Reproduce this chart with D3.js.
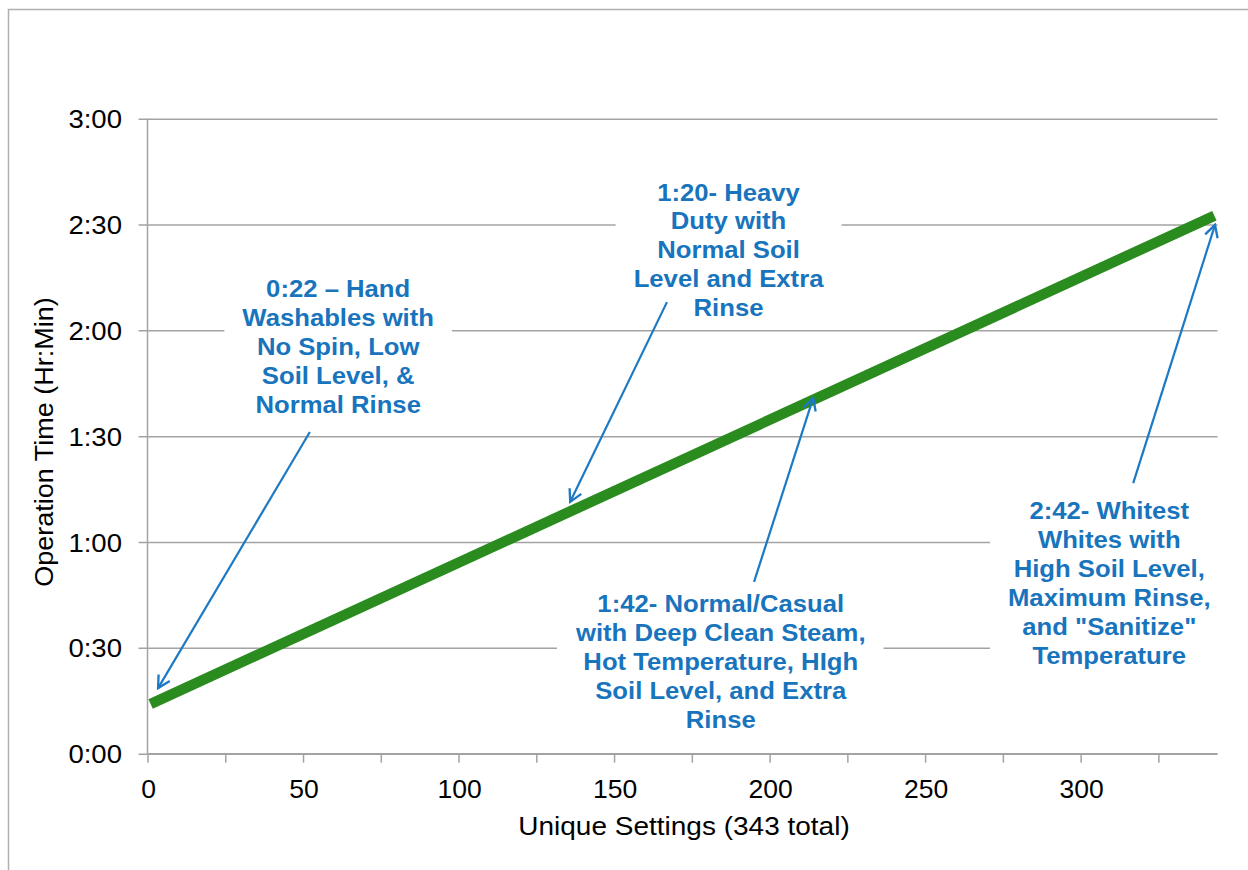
<!DOCTYPE html>
<html>
<head>
<meta charset="utf-8">
<script src="https://cdn.jsdelivr.net/npm/d3@7"></script>
<style>
  html, body { margin: 0; padding: 0; background: #fff; }
  svg { display: block; }
</style>
</head>
<body>
<svg id="chart" width="1248" height="870"></svg>
<script>
// Operation time trend across the washer's unique setting combinations.
const settingIndex = [1, 343];            // unique setting number (x)
const operationMinutes = [14.1, 152.5];   // operation time in minutes (y)

const yTickMinutes = [0, 30, 60, 90, 120, 150, 180];
const yTickLabels = ["0:00", "0:30", "1:00", "1:30", "2:00", "2:30", "3:00"];
const xTickValues = [0, 25, 50, 75, 100, 125, 150, 175, 200, 225, 250, 275, 300, 325];
const xTickLabels = ["0", "", "50", "", "100", "", "150", "", "200", "", "250", "", "300", ""];

const xTitle = "Unique Settings (343 total)";
const yTitle = "Operation Time (Hr:Min)";

// Callout texts, one entry per line
const calloutLines = [
  ["0:22 \u2013 Hand", "Washables with", "No Spin, Low", "Soil Level, &", "Normal Rinse"],
  ["1:20- Heavy", "Duty with", "Normal Soil", "Level and Extra", "Rinse"],
  ["1:42- Normal/Casual", "with Deep Clean Steam,", "Hot Temperature, HIgh", "Soil Level, and Extra", "Rinse"],
  ["2:42-  Whitest", "Whites with", "High Soil Level,", "Maximum Rinse,", "and \"Sanitize\"", "Temperature"]
];
// Callout text centres and arrow ends, in data units (setting, minutes)
const calloutTextX = [61.3, 186.8, 184.3, 309.2];
const calloutTextY = [129.4, 156.8, 40.1, 66.4];
const arrowFromX = [52.2, 167.0, 195.0, 316.9];
const arrowFromY = [91.2, 128.0, 48.7, 76.7];
const arrowToX = [3.4, 135.9, 214.0, 343.2];
const arrowToY = [18.6, 71.4, 100.8, 149.9];

const svg = d3.select("#chart");
const gridColor = "#a3a3a3";
const calloutColor = "#1874bd";
const arrowColor = "#1c79c4";
const lineColor = "#2a8c1f";
const font = "Liberation Sans, Arial, sans-serif";

// Outer chart frame
svg.append("rect")
  .attr("x", 8.5).attr("y", 9.5)
  .attr("width", 1300).attr("height", 900)
  .attr("fill", "none")
  .attr("stroke", "#b0b0b0")
  .attr("stroke-width", 1.5);

const x = d3.scaleLinear().domain([0, 344]).range([147.5, 1217.5]);
const y = d3.scaleLinear().domain([0, 180]).range([753.7, 118.7]);

// Horizontal gridlines with left tick marks
const yAxis = d3.axisLeft(y)
  .tickValues(yTickMinutes)
  .tickSize(-(x.range()[1] - x.range()[0]))
  .tickFormat("");
const gy = svg.append("g").attr("transform", `translate(${x.range()[0]},0)`).call(yAxis);
gy.select(".domain").remove();
gy.selectAll(".tick line").attr("stroke", gridColor).attr("stroke-width", 1.5).attr("x1", -9);

// Vertical axis line
svg.append("line")
  .attr("x1", x(0)).attr("x2", x(0))
  .attr("y1", y(180)).attr("y2", y(0))
  .attr("stroke", gridColor).attr("stroke-width", 1.5);

// Bottom axis
const xAxis = d3.axisBottom(x).tickValues(xTickValues).tickSize(9).tickFormat("");
const gx = svg.append("g").attr("transform", `translate(0,${y(0)})`).call(xAxis);
gx.select(".domain").attr("stroke", gridColor).attr("stroke-width", 1.5)
  .attr("d", `M${x.range()[0]},0H${x.range()[1]}`);
gx.selectAll(".tick line").attr("stroke", gridColor).attr("stroke-width", 1.5);

// Text helper: stretched along the reading direction like the original typeface
function drawText(parent, tx, ty, str, opts) {
  const g = parent.append("g")
    .attr("transform", `translate(${tx},${ty}) rotate(${opts.rotate || 0}) scale(${opts.sx || 1},1)`);
  return g.append("text")
    .attr("text-anchor", opts.anchor || "middle")
    .attr("font-family", font)
    .attr("font-size", opts.size)
    .attr("font-weight", opts.weight || "normal")
    .attr("fill", opts.color || "#000")
    .text(str);
}

const labels = svg.append("g");
yTickMinutes.forEach((m, i) => {
  drawText(labels, 122, y(m) + 9.5, yTickLabels[i], { size: 26, anchor: "end", sx: 1.06 });
});
xTickValues.forEach((v, i) => {
  if (xTickLabels[i]) drawText(labels, x(v) + 1, 798, xTickLabels[i], { size: 26, sx: 1.02 });
});
drawText(labels, 684, 835, xTitle, { size: 25, sx: 1.12 });
drawText(labels, 53, 442, yTitle, { size: 25, sx: 1.08, rotate: -90 });

// Trend line of operation time
const pts = settingIndex.map((s, i) => [s, operationMinutes[i]]);
svg.append("path")
  .datum(pts)
  .attr("d", d3.line().x(d => x(d[0])).y(d => y(d[1])))
  .attr("fill", "none")
  .attr("stroke", lineColor)
  .attr("stroke-width", 10.5);

// Callouts: white backing box, centred text lines
const lineGap = 28.9;
const callouts = svg.append("g");
calloutLines.forEach((lines, i) => {
  const g = callouts.append("g");
  const cx = x(calloutTextX[i]);
  const firstBase = y(calloutTextY[i]);
  const box = g.append("rect").attr("fill", "#fff");
  const tg = g.append("g");
  lines.forEach((ln, j) => {
    drawText(tg, cx, firstBase + j * lineGap, ln,
      { size: 24, weight: "bold", sx: 1.07, color: calloutColor });
  });
  const bb = tg.node().getBBox();
  box.attr("x", bb.x - 18).attr("y", bb.y - 8)
    .attr("width", bb.width + 36).attr("height", bb.height + 14);
});

// Arrows from callouts to the line
const defs = svg.append("defs");
defs.append("marker")
  .attr("id", "openArrow")
  .attr("viewBox", "-14 -8 16 16")
  .attr("markerWidth", 16).attr("markerHeight", 16)
  .attr("markerUnits", "userSpaceOnUse")
  .attr("refX", 0).attr("refY", 0)
  .attr("orient", "auto")
  .append("path")
  .attr("d", "M-12,-6.5L0,0L-12,6.5")
  .attr("fill", "none")
  .attr("stroke", arrowColor)
  .attr("stroke-width", 2.3);

arrowFromX.forEach((fx, i) => {
  svg.append("line")
    .attr("x1", x(fx)).attr("y1", y(arrowFromY[i]))
    .attr("x2", x(arrowToX[i])).attr("y2", y(arrowToY[i]))
    .attr("stroke", arrowColor)
    .attr("stroke-width", 2.2)
    .attr("marker-end", "url(#openArrow)");
});
</script>
</body>
</html>
